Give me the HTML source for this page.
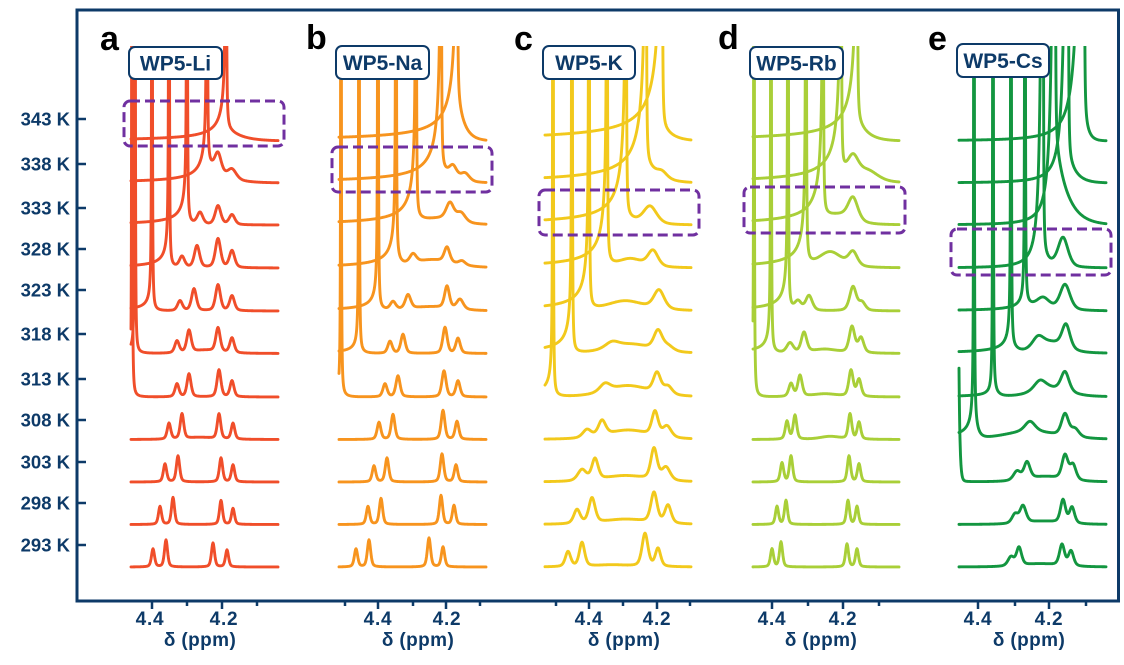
<!DOCTYPE html>
<html>
<head>
<meta charset="utf-8">
<style>
  html,body{margin:0;padding:0;background:#fff;}
  body{width:1124px;height:665px;overflow:hidden;}
  svg{display:block;}
  .lab{font-family:"Liberation Sans",Arial,sans-serif;font-weight:bold;fill:#0D3A68;}
  .let{font-family:"Liberation Sans",Arial,sans-serif;font-weight:bold;fill:#000;}
</style>
</head>
<body>
<svg id="s" xmlns="http://www.w3.org/2000/svg" width="1124" height="665" viewBox="0 0 1124 665">
  <defs>
    <clipPath id="cp"><rect x="0" y="46" width="1124" height="555"/></clipPath>
  </defs>
  <rect x="0" y="0" width="1124" height="665" fill="#fff"/>
  <g id="curves" clip-path="url(#cp)" fill="none" stroke-width="2.9" stroke-linejoin="round" stroke-linecap="round"></g>

  <!-- purple dashed boxes -->
  <g fill="none" stroke="#7030A0" stroke-width="3" stroke-dasharray="10 5">
    <rect x="124" y="101" width="160" height="45" rx="6"/>
    <rect x="332" y="147" width="160" height="45" rx="6"/>
    <rect x="539" y="190" width="160" height="45" rx="6"/>
    <rect x="744" y="187" width="161" height="46" rx="6"/>
    <rect x="951" y="229" width="160" height="46" rx="6"/>
  </g>

  <!-- label boxes -->
  <g fill="#fff" stroke="#0D3A68" stroke-width="2">
    <rect x="129" y="47" width="93" height="32" rx="6"/>
    <rect x="336" y="46" width="93" height="33" rx="6"/>
    <rect x="543" y="46" width="92" height="33" rx="6"/>
    <rect x="750" y="47" width="93" height="32" rx="6"/>
    <rect x="957" y="44" width="92" height="33" rx="6"/>
  </g>
  <g class="lab" font-size="21" text-anchor="middle">
    <text x="175.5" y="70.5">WP5-Li</text>
    <text x="382.5" y="70">WP5-Na</text>
    <text x="589" y="70">WP5-K</text>
    <text x="796.5" y="70.5">WP5-Rb</text>
    <text x="1003" y="68">WP5-Cs</text>
  </g>

  <!-- panel letters -->
  <g class="let" font-size="34">
    <text x="100" y="50">a</text>
    <text x="306" y="49">b</text>
    <text x="514" y="50">c</text>
    <text x="718" y="49">d</text>
    <text x="928" y="50">e</text>
  </g>

  <!-- frame -->
  <rect x="77" y="10" width="1041.5" height="591" fill="none" stroke="#0D3A68" stroke-width="3"/>

  <!-- left ticks -->
  <g stroke="#0D3A68" stroke-width="2.5">
    <line x1="78" x2="86" y1="119" y2="119"/>
    <line x1="78" x2="86" y1="164" y2="164"/>
    <line x1="78" x2="86" y1="208" y2="208"/>
    <line x1="78" x2="86" y1="249" y2="249"/>
    <line x1="78" x2="86" y1="290" y2="290"/>
    <line x1="78" x2="86" y1="334" y2="334"/>
    <line x1="78" x2="86" y1="379" y2="379"/>
    <line x1="78" x2="86" y1="420" y2="420"/>
    <line x1="78" x2="86" y1="462" y2="462"/>
    <line x1="78" x2="86" y1="503" y2="503"/>
    <line x1="78" x2="86" y1="545" y2="545"/>
  </g>
  <g class="lab" font-size="18.5" text-anchor="end">
    <text x="70" y="125.5">343 K</text>
    <text x="70" y="170.5">338 K</text>
    <text x="70" y="214.5">333 K</text>
    <text x="70" y="255.5">328 K</text>
    <text x="70" y="296.5">323 K</text>
    <text x="70" y="340.5">318 K</text>
    <text x="70" y="385.5">313 K</text>
    <text x="70" y="426.5">308 K</text>
    <text x="70" y="468.5">303 K</text>
    <text x="70" y="509.5">298 K</text>
    <text x="70" y="551.5">293 K</text>
  </g>

  <!-- bottom ticks -->
  <g stroke="#0D3A68" stroke-width="2.5">
    <line x1="152" x2="152" y1="601" y2="609"/>
    <line x1="187" x2="187" y1="601" y2="606"/>
    <line x1="222" x2="222" y1="601" y2="609"/>
    <line x1="257" x2="257" y1="601" y2="606"/>

    <line x1="345" x2="345" y1="601" y2="606"/>
    <line x1="378" x2="378" y1="601" y2="609"/>
    <line x1="413" x2="413" y1="601" y2="606"/>
    <line x1="446" x2="446" y1="601" y2="609"/>
    <line x1="480" x2="480" y1="601" y2="606"/>

    <line x1="556" x2="556" y1="601" y2="606"/>
    <line x1="589" x2="589" y1="601" y2="609"/>
    <line x1="623" x2="623" y1="601" y2="606"/>
    <line x1="657" x2="657" y1="601" y2="609"/>
    <line x1="690" x2="690" y1="601" y2="606"/>

    <line x1="772" x2="772" y1="601" y2="609"/>
    <line x1="808" x2="808" y1="601" y2="606"/>
    <line x1="843" x2="843" y1="601" y2="609"/>
    <line x1="879" x2="879" y1="601" y2="606"/>

    <line x1="978" x2="978" y1="601" y2="609"/>
    <line x1="1015" x2="1015" y1="601" y2="606"/>
    <line x1="1049" x2="1049" y1="601" y2="609"/>
    <line x1="1086" x2="1086" y1="601" y2="606"/>
  </g>
  <g class="lab" font-size="19" text-anchor="middle" letter-spacing="0.8">
    <text x="150" y="625">4.4</text><text x="224" y="625">4.2</text>
    <text x="378" y="625">4.4</text><text x="447" y="625">4.2</text>
    <text x="589" y="625">4.4</text><text x="657" y="625">4.2</text>
    <text x="772" y="625">4.4</text><text x="843" y="625">4.2</text>
    <text x="978" y="625">4.4</text><text x="1049" y="625">4.2</text>
  </g>
  <g class="lab" font-size="19" text-anchor="middle" letter-spacing="0.4">
    <text x="200" y="646">δ (ppm)</text>
    <text x="418" y="646">δ (ppm)</text>
    <text x="624" y="646">δ (ppm)</text>
    <text x="821" y="646">δ (ppm)</text>
    <text x="1029" y="646">δ (ppm)</text>
  </g>
</svg>
<script>
(function(){
  var NS="http://www.w3.org/2000/svg";
  var Y=[567,524.5,482,439.5,397,353.5,311,268,225,183,141];
  var P=[
   {x0:131,x1:278,c:"#F04E2A",ws:1.3,r:[
    {p:[[153,18,1.4],[166,27,1.4],[213,24,1.4],[227,17,1.4]]},
    {p:[[160,18,1.4],[173,27,1.4],[221,24,1.4],[233,16,1.4]]},
    {p:[[165,18,1.5],[178,26,1.5],[221,24,1.5],[233,17,1.5]]},
    {p:[[169,16,1.6],[182,25,1.6],[219,25,1.6],[233,16,1.6],[200,2,15]]},
    {p:[[177,13,1.8],[189,23,1.8],[219,27,1.8],[232,16,1.8]],h:132,B:20,R:2,t:4},
    {p:[[177,12,2],[189,22,2],[218,24,2],[232,15,2],[205,3,15]],h:135,B:30,R:2,t:5},
    {p:[[180,10,2.2],[194,22,2.2],[218,26,2.2],[232,15,2.2]],h:152,B:60,R:2,t:5},
    {p:[[182,11,2.4],[197,22,2.4],[218,29,2.4],[232,17,2.4]],h:169,B:95,R:3,t:5},
    {p:[[200,12,2.6],[218,19,2.6],[232,10,2.6]],h:187,B:130,R:5,t:5},
    {p:[[218,20,3],[232,10,4]],h:207,B:165,R:22,t:14},
    {p:[],h:226,B:200,R:15,t:14}
   ]},
   {x0:339,x1:486,c:"#F7941E",ws:1.3,r:[
    {p:[[356,18,1.5],[369,27,1.5],[429,29,1.5],[443,20,1.5]]},
    {p:[[368,18,1.5],[381,26,1.5],[441,29,1.5],[454,19,1.5]]},
    {p:[[374,16,1.6],[387,24,1.6],[442,28,1.6],[456,17,1.6]]},
    {p:[[379,17,1.7],[393,25,1.7],[443,29,1.7],[457,18,1.7]]},
    {p:[[385,13,1.9],[398,21,1.9],[444,26,1.9],[458,16,1.9]],h:341,B:30,R:4,t:4},
    {p:[[390,12,2],[403,19,2],[445,26,2],[458,15,2]],h:359,B:50,R:3,t:5},
    {p:[[393,8,2.5],[408,14,2.5],[447,22,2.2],[460,10,3],[430,4,25]],h:378,B:90,R:4,t:5},
    {p:[[413,9,3],[447,15,2.5],[462,4,3],[432,8,25]],h:396,B:150,R:14,t:4},
    {p:[[450,17,3.5],[461,9,4],[440,6,20]],h:416,B:250,R:8,t:8},
    {p:[[453,12,3.5],[465,8,4]],h:441,B:370,R:18,t:10},
    {p:[],h:457,B:450,R:50,t:7}
   ]},
   {x0:545,x1:691,c:"#F2C91C",ws:1.25,r:[
    {p:[[568,15,2.5],[582,24,2.5],[645,33,2.8],[658,18,2.5],[612,2,20]]},
    {p:[[577,14,3],[592,25,3],[654,30,3],[668,18,3],[625,5,25]]},
    {p:[[582,11,4],[595,21,3],[654,31,3],[666,13,4],[625,6,25]]},
    {p:[[587,8,4],[602,15,3.5],[655,24,3],[667,11,4],[628,9,25]]},
    {p:[[605,8,5],[657,20,3.5],[668,8,4],[628,11,25]],h:553,B:100,R:3,t:5},
    {p:[[612,6,8],[658,19,4],[668,5,5],[630,9,25]],h:572,B:160,R:3,t:5},
    {p:[[659,19,5],[625,10,22]],h:589,B:220,R:5,t:5},
    {p:[[653,16,6],[630,9,15]],h:607,B:300,R:8,t:5},
    {p:[[650,18,8]],h:626,B:420,R:12,t:10},
    {p:[[662,6,6]],h:646,B:550,R:25,t:12},
    {p:[],h:662,B:700,R:18,t:10}
   ]},
   {x0:753,x1:899,c:"#A9CF38",ws:1.3,r:[
    {p:[[772,18,1.4],[781,25,1.4],[847,23,1.4],[857,18,1.4]]},
    {p:[[777,18,1.4],[786,24,1.4],[848,24,1.4],[857,18,1.4]]},
    {p:[[782,19,1.5],[791,26,1.5],[849,26,1.5],[859,18,1.5]]},
    {p:[[787,18,1.6],[795,24,1.6],[850,25,1.6],[859,17,1.6],[830,3,12]]},
    {p:[[791,13,2],[800,21,2],[851,26,2],[859,17,2],[825,3,15]],h:754,B:40,R:3,t:4},
    {p:[[790,10,3],[804,20,2.5],[852,26,2.5],[861,15,2.5],[825,4,15]],h:771,B:80,R:4,t:5},
    {p:[[798,9,3],[809,15,3],[853,24,3],[862,8,3]],h:788,B:130,R:5,t:5},
    {p:[[830,16,14],[853,14,4]],h:806,B:200,R:8,t:5},
    {p:[[853,23,4.5],[840,8,15]],h:823,B:300,R:10,t:10},
    {p:[[853,20,5],[868,10,12]],h:841,B:380,R:12,t:15},
    {p:[],h:857,B:450,R:25,t:10}
   ]},
   {x0:959,x1:1106,c:"#139640",ws:1.2,r:[
    {p:[[1011,9,3],[1019,18,2.5],[1062,21,2.5],[1071,15,2.5],[1040,3,20]]},
    {p:[[1015,9,3],[1023,17,3],[1063,23,2.5],[1072,16,2.5],[1043,3,20]]},
    {p:[[1017,9,3.5],[1027,17,3],[1065,24,3],[1073,15,3],[1045,5,20]],h:955,B:0,R:6000,t:1},
    {p:[[1030,10,6],[1065,22,3.5],[1075,8,4],[1030,8,30]],h:974,B:100,R:30,t:3},
    {p:[[1040,10,7],[1065,20,4],[1050,8,20]],h:993,B:30,R:10,t:4},
    {p:[[1038,12,7],[1066,24,4],[1052,10,15]],h:1011,B:90,R:10,t:6},
    {p:[[1043,12,8],[1065,26,5]],h:1025,B:60,R:10,t:8},
    {p:[[1063,30,6]],h:1043,B:3500,q:2,R:20,t:6},
    {p:[],h:1055,B:5000,q:2,R:90,t:12},
    {p:[],h:1068,B:5700,q:2,R:30,t:8},
    {p:[],h:1084,B:12000,q:2,R:30,t:4}
   ]}
  ];
  function val(x,r,ws){
    var v=0,i,p,d,w;
    for(i=0;i<r.p.length;i++){
      p=r.p[i];
      w=p[2]<6?p[2]*ws:p[2];
      d=(x-p[0])/w;
      v+=p[1]*(0.55*Math.exp(-0.693*d*d)+0.45/(1+d*d));
    }
    if(r.h!=null){
      d=x-r.h; v+=60/(d*d+1e-4);
      if(d<0){v+=(r.B||0)/Math.pow(-d+1.5,r.q||1);}
      else{v+=(r.R||0)*Math.exp(-d/(r.t||5));}
    }
    return v;
  }
  var g=document.getElementById('curves');
  P.forEach(function(pn){
    pn.r.forEach(function(r,i){
      var xs=[],x,d;
      for(x=pn.x0;x<=pn.x1+1e-9;x+=0.5)xs.push(x);
      if(r.h!=null){for(d=-5;d<=5;d+=0.02){x=r.h+d;if(x>pn.x0&&x<pn.x1)xs.push(x);}}
      xs.sort(function(a,b){return a-b;});
      var s="",k,y;
      for(k=0;k<xs.length;k++){
        y=Y[i]-val(xs[k],r,pn.ws); if(y<20)y=20;
        s+=(k?"L":"M")+xs[k].toFixed(2)+" "+y.toFixed(2);
      }
      var el=document.createElementNS(NS,"path");
      el.setAttribute("d",s);el.setAttribute("stroke",pn.c);
      g.appendChild(el);
    });
  });
})();
</script>
</body>
</html>
